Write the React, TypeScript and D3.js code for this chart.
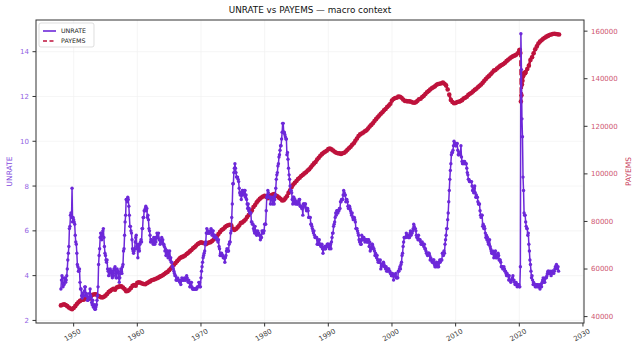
import React from 'react';
import * as d3 from 'd3';

// Unemployment rate (%), one row per year of monthly values, Jan 1948 onward
const START_YEAR = 1948;
const unrateMonthly: number[][] = [
  [3.4, 3.8, 4.0, 3.9, 3.5, 3.6, 3.6, 3.9, 3.8, 3.7, 3.8, 4.0],
  [4.3, 4.7, 5.0, 5.3, 6.1, 6.2, 6.7, 6.8, 6.6, 7.9, 6.4, 6.6],
  [6.5, 6.4, 6.3, 5.8, 5.5, 5.4, 5.0, 4.5, 4.4, 4.2, 4.2, 4.3],
  [3.7, 3.4, 3.4, 3.1, 3.0, 3.2, 3.1, 3.1, 3.3, 3.5, 3.5, 3.1],
  [3.2, 3.1, 2.9, 2.9, 3.0, 3.0, 3.2, 3.4, 3.1, 3.0, 2.8, 2.7],
  [2.9, 2.6, 2.6, 2.7, 2.5, 2.5, 2.6, 2.7, 2.9, 3.1, 3.5, 4.5],
  [4.9, 5.2, 5.7, 5.9, 5.9, 5.6, 5.8, 6.0, 6.1, 5.7, 5.3, 5.0],
  [4.9, 4.7, 4.6, 4.7, 4.3, 4.2, 4.0, 4.2, 4.1, 4.3, 4.2, 4.2],
  [4.0, 3.9, 4.2, 4.0, 4.3, 4.3, 4.4, 4.1, 3.9, 3.9, 4.3, 4.2],
  [4.2, 3.9, 3.7, 3.9, 4.1, 4.3, 4.2, 4.1, 4.4, 4.5, 5.1, 5.2],
  [5.8, 6.4, 6.7, 7.4, 7.4, 7.3, 7.5, 7.4, 7.1, 6.7, 6.2, 6.2],
  [6.0, 5.9, 5.6, 5.2, 5.1, 5.0, 5.1, 5.2, 5.5, 5.7, 5.8, 5.3],
  [5.2, 4.8, 5.4, 5.2, 5.1, 5.4, 5.5, 5.6, 5.5, 6.1, 6.1, 6.6],
  [6.6, 6.9, 6.9, 7.0, 7.1, 6.9, 7.0, 6.6, 6.7, 6.5, 6.1, 6.0],
  [5.8, 5.5, 5.6, 5.6, 5.5, 5.5, 5.4, 5.7, 5.6, 5.4, 5.7, 5.5],
  [5.7, 5.9, 5.7, 5.7, 5.9, 5.6, 5.6, 5.4, 5.5, 5.5, 5.7, 5.5],
  [5.6, 5.4, 5.4, 5.3, 5.1, 5.2, 4.9, 5.0, 5.1, 5.1, 4.8, 5.0],
  [4.9, 5.1, 4.7, 4.8, 4.6, 4.6, 4.4, 4.4, 4.3, 4.2, 4.1, 4.0],
  [4.0, 3.8, 3.8, 3.8, 3.9, 3.8, 3.8, 3.8, 3.7, 3.7, 3.6, 3.8],
  [3.9, 3.8, 3.8, 3.8, 3.8, 3.9, 3.8, 3.8, 3.8, 4.0, 3.9, 3.8],
  [3.7, 3.8, 3.7, 3.5, 3.5, 3.7, 3.7, 3.5, 3.4, 3.4, 3.4, 3.4],
  [3.4, 3.4, 3.4, 3.4, 3.4, 3.5, 3.5, 3.5, 3.7, 3.7, 3.5, 3.5],
  [3.9, 4.2, 4.4, 4.6, 4.8, 4.9, 5.0, 5.1, 5.4, 5.5, 5.9, 6.1],
  [5.9, 5.9, 6.0, 5.9, 5.9, 5.9, 6.0, 6.1, 6.0, 5.8, 6.0, 6.0],
  [5.8, 5.7, 5.8, 5.7, 5.7, 5.7, 5.6, 5.6, 5.5, 5.6, 5.3, 5.2],
  [4.9, 5.0, 4.9, 5.0, 4.9, 4.9, 4.8, 4.8, 4.8, 4.6, 4.8, 4.9],
  [5.1, 5.2, 5.1, 5.1, 5.1, 5.4, 5.5, 5.5, 5.9, 6.0, 6.6, 7.2],
  [8.1, 8.1, 8.6, 8.8, 9.0, 8.8, 8.6, 8.4, 8.4, 8.4, 8.3, 8.2],
  [7.9, 7.7, 7.6, 7.7, 7.4, 7.6, 7.8, 7.8, 7.6, 7.7, 7.8, 7.8],
  [7.5, 7.6, 7.4, 7.2, 7.0, 7.2, 6.9, 7.0, 6.8, 6.8, 6.8, 6.4],
  [6.4, 6.3, 6.3, 6.1, 6.0, 5.9, 6.2, 5.9, 6.0, 5.8, 5.9, 6.0],
  [5.9, 5.9, 5.8, 5.8, 5.6, 5.7, 5.7, 6.0, 5.9, 6.0, 5.9, 6.0],
  [6.3, 6.3, 6.3, 6.9, 7.5, 7.6, 7.8, 7.7, 7.5, 7.5, 7.5, 7.2],
  [7.5, 7.4, 7.4, 7.2, 7.5, 7.5, 7.2, 7.4, 7.6, 7.9, 8.3, 8.5],
  [8.6, 8.9, 9.0, 9.3, 9.4, 9.6, 9.8, 9.8, 10.1, 10.4, 10.8, 10.8],
  [10.4, 10.4, 10.3, 10.2, 10.1, 10.1, 9.4, 9.5, 9.2, 8.8, 8.5, 8.3],
  [8.0, 7.8, 7.8, 7.7, 7.4, 7.2, 7.5, 7.5, 7.3, 7.4, 7.2, 7.3],
  [7.3, 7.2, 7.2, 7.3, 7.2, 7.4, 7.4, 7.1, 7.1, 7.1, 7.0, 7.0],
  [6.7, 7.2, 7.2, 7.1, 7.2, 7.2, 7.0, 6.9, 7.0, 7.0, 6.9, 6.6],
  [6.6, 6.6, 6.6, 6.3, 6.3, 6.2, 6.1, 6.0, 5.9, 6.0, 5.8, 5.7],
  [5.7, 5.7, 5.7, 5.4, 5.6, 5.4, 5.4, 5.6, 5.4, 5.4, 5.3, 5.3],
  [5.4, 5.2, 5.0, 5.2, 5.2, 5.3, 5.2, 5.2, 5.3, 5.3, 5.4, 5.4],
  [5.4, 5.3, 5.2, 5.4, 5.4, 5.2, 5.5, 5.7, 5.9, 5.9, 6.2, 6.3],
  [6.4, 6.6, 6.8, 6.7, 6.9, 6.9, 6.8, 6.9, 6.9, 7.0, 7.0, 7.3],
  [7.3, 7.4, 7.4, 7.4, 7.6, 7.8, 7.7, 7.6, 7.6, 7.3, 7.4, 7.4],
  [7.3, 7.1, 7.0, 7.1, 7.1, 7.0, 6.9, 6.8, 6.7, 6.8, 6.6, 6.5],
  [6.6, 6.6, 6.5, 6.4, 6.1, 6.1, 6.1, 6.0, 5.9, 5.8, 5.6, 5.5],
  [5.6, 5.4, 5.4, 5.8, 5.6, 5.6, 5.7, 5.7, 5.6, 5.5, 5.6, 5.6],
  [5.6, 5.5, 5.5, 5.6, 5.6, 5.3, 5.5, 5.1, 5.2, 5.2, 5.4, 5.4],
  [5.3, 5.2, 5.2, 5.1, 4.9, 5.0, 4.9, 4.8, 4.9, 4.7, 4.6, 4.7],
  [4.6, 4.6, 4.7, 4.3, 4.4, 4.5, 4.5, 4.5, 4.6, 4.5, 4.4, 4.4],
  [4.3, 4.4, 4.2, 4.3, 4.2, 4.3, 4.3, 4.2, 4.2, 4.1, 4.1, 4.0],
  [4.0, 4.1, 4.0, 3.8, 4.0, 4.0, 4.0, 4.1, 3.9, 3.9, 3.9, 3.9],
  [4.2, 4.2, 4.3, 4.4, 4.3, 4.5, 4.6, 4.9, 5.0, 5.3, 5.5, 5.7],
  [5.7, 5.7, 5.7, 5.9, 5.8, 5.8, 5.8, 5.7, 5.7, 5.7, 5.9, 6.0],
  [5.8, 5.9, 5.9, 6.0, 6.1, 6.3, 6.2, 6.1, 6.1, 6.0, 5.8, 5.7],
  [5.7, 5.6, 5.8, 5.6, 5.6, 5.6, 5.5, 5.4, 5.4, 5.5, 5.4, 5.4],
  [5.3, 5.4, 5.2, 5.2, 5.1, 5.0, 5.0, 4.9, 5.0, 5.0, 5.0, 4.9],
  [4.7, 4.8, 4.7, 4.7, 4.6, 4.6, 4.7, 4.7, 4.5, 4.4, 4.5, 4.4],
  [4.6, 4.5, 4.4, 4.5, 4.4, 4.6, 4.7, 4.6, 4.7, 4.7, 4.7, 5.0],
  [5.0, 4.9, 5.1, 5.0, 5.4, 5.6, 5.8, 6.1, 6.1, 6.5, 6.8, 7.3],
  [7.8, 8.3, 8.7, 9.0, 9.4, 9.5, 9.5, 9.6, 9.8, 10.0, 9.9, 9.9],
  [9.8, 9.8, 9.9, 9.9, 9.6, 9.4, 9.4, 9.5, 9.5, 9.4, 9.8, 9.3],
  [9.1, 9.0, 9.0, 9.1, 9.0, 9.1, 9.0, 9.0, 9.0, 8.8, 8.6, 8.5],
  [8.3, 8.3, 8.2, 8.2, 8.2, 8.2, 8.2, 8.0, 7.8, 7.8, 7.7, 7.9],
  [8.0, 7.7, 7.5, 7.6, 7.5, 7.5, 7.3, 7.2, 7.2, 7.2, 6.9, 6.7],
  [6.6, 6.7, 6.7, 6.2, 6.3, 6.1, 6.2, 6.1, 5.9, 5.7, 5.8, 5.6],
  [5.7, 5.5, 5.4, 5.4, 5.6, 5.3, 5.2, 5.1, 5.0, 5.0, 5.1, 5.0],
  [4.8, 4.9, 5.0, 5.1, 4.8, 4.9, 4.8, 4.9, 5.0, 4.9, 4.7, 4.7],
  [4.7, 4.6, 4.4, 4.4, 4.4, 4.3, 4.3, 4.4, 4.3, 4.2, 4.2, 4.1],
  [4.0, 4.1, 4.0, 4.0, 3.8, 4.0, 3.8, 3.8, 3.7, 3.8, 3.8, 3.9],
  [4.0, 3.8, 3.8, 3.7, 3.6, 3.6, 3.7, 3.6, 3.5, 3.6, 3.6, 3.6],
  [3.5, 3.5, 4.4, 14.8, 13.2, 11.0, 10.2, 8.4, 7.8, 6.8, 6.7, 6.7],
  [6.4, 6.2, 6.1, 6.1, 5.8, 5.9, 5.4, 5.1, 4.7, 4.5, 4.2, 3.9],
  [4.0, 3.8, 3.6, 3.7, 3.6, 3.6, 3.5, 3.6, 3.5, 3.6, 3.6, 3.5],
  [3.5, 3.6, 3.5, 3.4, 3.6, 3.6, 3.5, 3.7, 3.8, 3.9, 3.7, 3.8],
  [3.7, 3.9, 3.9, 3.9, 4.0, 4.1, 4.2, 4.2, 4.1, 4.1, 4.2, 4.1],
  [4.0, 4.1, 4.2, 4.2, 4.2, 4.1, 4.2, 4.3, 4.4, 4.4, 4.5, 4.4],
  [4.3, 4.4, 4.2],
];

// Nonfarm payrolls (thousands): Jan/Apr/Jul/Oct per year; 2020 is monthly
const payemsRows: number[][] = [
  [44700, 45000, 45200, 44900],
  [44400, 43800, 43400, 43100],
  [43600, 44400, 45300, 46000],
  [46600, 47000, 47100, 47300],
  [47600, 47700, 47500, 48700],
  [49200, 49400, 49400, 48900],
  [48500, 48200, 48000, 48300],
  [48800, 49500, 50300, 50800],
  [51300, 51700, 51300, 52200],
  [52500, 52700, 52700, 52200],
  [51600, 50700, 50800, 51300],
  [52000, 52900, 53300, 53000],
  [54200, 54400, 54200, 53900],
  [53700, 53600, 54000, 54400],
  [54800, 55300, 55500, 55700],
  [56000, 56300, 56700, 57100],
  [57400, 57900, 58400, 58800],
  [59500, 60200, 61000, 61800],
  [62500, 63300, 64000, 64700],
  [65000, 65300, 65700, 66300],
  [66800, 67400, 68000, 68700],
  [69200, 69900, 70500, 70900],
  [71200, 71000, 70900, 70400],
  [70800, 71100, 71300, 71800],
  [72400, 73300, 73800, 74700],
  [75600, 76400, 76800, 77500],
  [78100, 78400, 78600, 78400],
  [77000, 76400, 76800, 77500],
  [78300, 79300, 79600, 80200],
  [80800, 81900, 82700, 83800],
  [84600, 86100, 86900, 88000],
  [88800, 89500, 90100, 90500],
  [90800, 90400, 89800, 90600],
  [91000, 91300, 91500, 90900],
  [90600, 90000, 89500, 88800],
  [88900, 89700, 90600, 92000],
  [93100, 94500, 95500, 96300],
  [97000, 97800, 98400, 99100],
  [99600, 100200, 100700, 101400],
  [101900, 102800, 103600, 104400],
  [105000, 106000, 106800, 107600],
  [108300, 108900, 109300, 109700],
  [110400, 110700, 110300, 109800],
  [109300, 108900, 108700, 108600],
  [108400, 108700, 108900, 109400],
  [110100, 110800, 111400, 112200],
  [112900, 113900, 114900, 115900],
  [116600, 117000, 117400, 117900],
  [118300, 119100, 119900, 120600],
  [121300, 122200, 123000, 123800],
  [124500, 125300, 125900, 126700],
  [127300, 128100, 128700, 129500],
  [130800, 131500, 131900, 132000],
  [132500, 132400, 132000, 131300],
  [130700, 130600, 130500, 130500],
  [130300, 130000, 129900, 130100],
  [130700, 131400, 131600, 132300],
  [132800, 133600, 134300, 134800],
  [135500, 136000, 136400, 136800],
  [137500, 137800, 137900, 138100],
  [138400, 137900, 137200, 135500],
  [133300, 131100, 130200, 129700],
  [129800, 130200, 130300, 130600],
  [131000, 131700, 132000, 132400],
  [133200, 133700, 134100, 134700],
  [135300, 135800, 136400, 137000],
  [137600, 138300, 139100, 139900],
  [140600, 141200, 141900, 142600],
  [143400, 143700, 144300, 144800],
  [145400, 145800, 146200, 146700],
  [147400, 148000, 148500, 149000],
  [149400, 149700, 150100, 150700],
  [151900, 152200, 150800, 130400, 133100, 137600, 139100, 140900, 141600, 142400, 142500, 142300],
  [142800, 144100, 145500, 147900],
  [149000, 150700, 152400, 153600],
  [154800, 155600, 156200, 156800],
  [157200, 157700, 158000, 158400],
  [158600, 158800, 158900, 158800],
  [158700, 158600],
];

const UNRATE_COLOR = '#6d28d9';
const PAYEMS_COLOR = '#be123c';

type Pt = { t: number; v: number };

const unratePoints: Pt[] = unrateMonthly.flatMap((row, i) =>
  row.map((v, m) => ({ t: START_YEAR + i + m / 12, v }))
);

const payemsPoints: Pt[] = payemsRows.flatMap((row, i) =>
  row.map((v, k) => ({ t: START_YEAR + i + (row.length === 12 ? k / 12 : k / 4), v }))
);

// matplotlib-style 5% padding around the data range
const padded = (lo: number, hi: number): [number, number] => {
  const p = (hi - lo) * 0.05;
  return [lo - p, hi + p];
};

const W = 640;
const H = 352;
const L = 36;
const R = 584;
const T = 20;
const B = 323;
const FONT = 'DejaVu Sans, sans-serif';

const App: React.FC = () => {
  const allT = [...unratePoints, ...payemsPoints].map((d) => d.t);
  const x = d3.scaleLinear().domain(padded(d3.min(allT)!, d3.max(allT)!)).range([L, R]);
  const yL = d3
    .scaleLinear()
    .domain(padded(d3.min(unratePoints, (d) => d.v)!, d3.max(unratePoints, (d) => d.v)!))
    .range([B, T]);
  const yR = d3
    .scaleLinear()
    .domain(padded(d3.min(payemsPoints, (d) => d.v)!, d3.max(payemsPoints, (d) => d.v)!))
    .range([B, T]);

  const xTicks = d3.range(1950, 2031, 10);
  const lTicks = d3.range(2, 15, 2);
  const rTicks = d3.range(40000, 160001, 20000);

  const unrateLine = d3.line<Pt>().x((d) => x(d.t)).y((d) => yL(d.v))(unratePoints) || '';
  const payemsLine = d3.line<Pt>().x((d) => x(d.t)).y((d) => yR(d.v))(payemsPoints) || '';

  return (
    <svg width={W} height={H} style={{ position: 'absolute', left: 0, top: 0 }} fontFamily={FONT}>
      <rect width={W} height={H} fill="#fff" />

      {/* grid */}
      <g stroke="#e6e6e6" strokeWidth={0.6} opacity={0.6}>
        {xTicks.map((t) => (
          <line key={'gx' + t} x1={x(t)} x2={x(t)} y1={T} y2={B} />
        ))}
        {lTicks.map((t) => (
          <line key={'gy' + t} x1={L} x2={R} y1={yL(t)} y2={yL(t)} />
        ))}
      </g>

      {/* payrolls */}
      <g>
        <path d={payemsLine} fill="none" stroke={PAYEMS_COLOR} strokeWidth={2.6} strokeDasharray="6,3" />
        {payemsPoints.map((d, i) => (
          <circle key={'p' + i} cx={x(d.t)} cy={yR(d.v)} r={2.3} fill={PAYEMS_COLOR} />
        ))}
      </g>

      {/* unemployment rate */}
      <g>
        <path d={unrateLine} fill="none" stroke={UNRATE_COLOR} strokeWidth={1.5} />
        {unratePoints.map((d, i) => (
          <circle key={'u' + i} cx={x(d.t)} cy={yL(d.v)} r={1.7} fill={UNRATE_COLOR} />
        ))}
      </g>

      {/* frame */}
      <rect x={L} y={T} width={R - L} height={B - T} fill="none" stroke="#333" strokeWidth={1} />

      {/* x axis */}
      {xTicks.map((t) => (
        <g key={'xt' + t} transform={`translate(${x(t)},${B})`}>
          <line y2={3.5} stroke="#333" />
          <text
            transform="translate(0,14) rotate(-30)"
            textAnchor="middle"
            fontSize={7}
            fill="#444"
          >
            {t}
          </text>
        </g>
      ))}

      {/* left axis */}
      {lTicks.map((t) => (
        <g key={'lt' + t} transform={`translate(${L},${yL(t)})`}>
          <line x2={-3.5} stroke="#333" />
          <text x={-7} dy="0.35em" textAnchor="end" fontSize={7} fill={UNRATE_COLOR} opacity={0.75}>
            {t}
          </text>
        </g>
      ))}
      <text
        transform={`translate(12,${(T + B) / 2}) rotate(-90)`}
        textAnchor="middle"
        fontSize={7.5}
        fill={UNRATE_COLOR}
        opacity={0.85}
      >
        UNRATE
      </text>

      {/* right axis */}
      {rTicks.map((t) => (
        <g key={'rt' + t} transform={`translate(${R},${yR(t)})`}>
          <line x2={3.5} stroke="#333" />
          <text x={7} dy="0.35em" textAnchor="start" fontSize={7} fill={PAYEMS_COLOR} opacity={0.75}>
            {t}
          </text>
        </g>
      ))}
      <text
        transform={`translate(631,${(T + B) / 2}) rotate(-90)`}
        textAnchor="middle"
        fontSize={7.5}
        fill={PAYEMS_COLOR}
        opacity={0.85}
      >
        PAYEMS
      </text>

      {/* title */}
      <text x={(L + R) / 2} y={13} textAnchor="middle" fontSize={8.8} fill="#111">
        UNRATE vs PAYEMS — macro context
      </text>

      {/* legend */}
      <g transform={`translate(${L + 3},${T + 3})`}>
        <rect width={55} height={24} rx={2} fill="#fff" fillOpacity={0.8} stroke="#d0d0d0" strokeWidth={0.7} />
        <line x1={4} x2={17} y1={8} y2={8} stroke={UNRATE_COLOR} strokeWidth={1.6} />
        <text x={22} y={8} dy="0.35em" fontSize={6.3} fill="#222">
          UNRATE
        </text>
        <line x1={4} x2={17} y1={18} y2={18} stroke={PAYEMS_COLOR} strokeWidth={1.6} strokeDasharray="4,2.5" />
        <text x={22} y={18} dy="0.35em" fontSize={6.3} fill="#222">
          PAYEMS
        </text>
      </g>
    </svg>
  );
};

export default App;
